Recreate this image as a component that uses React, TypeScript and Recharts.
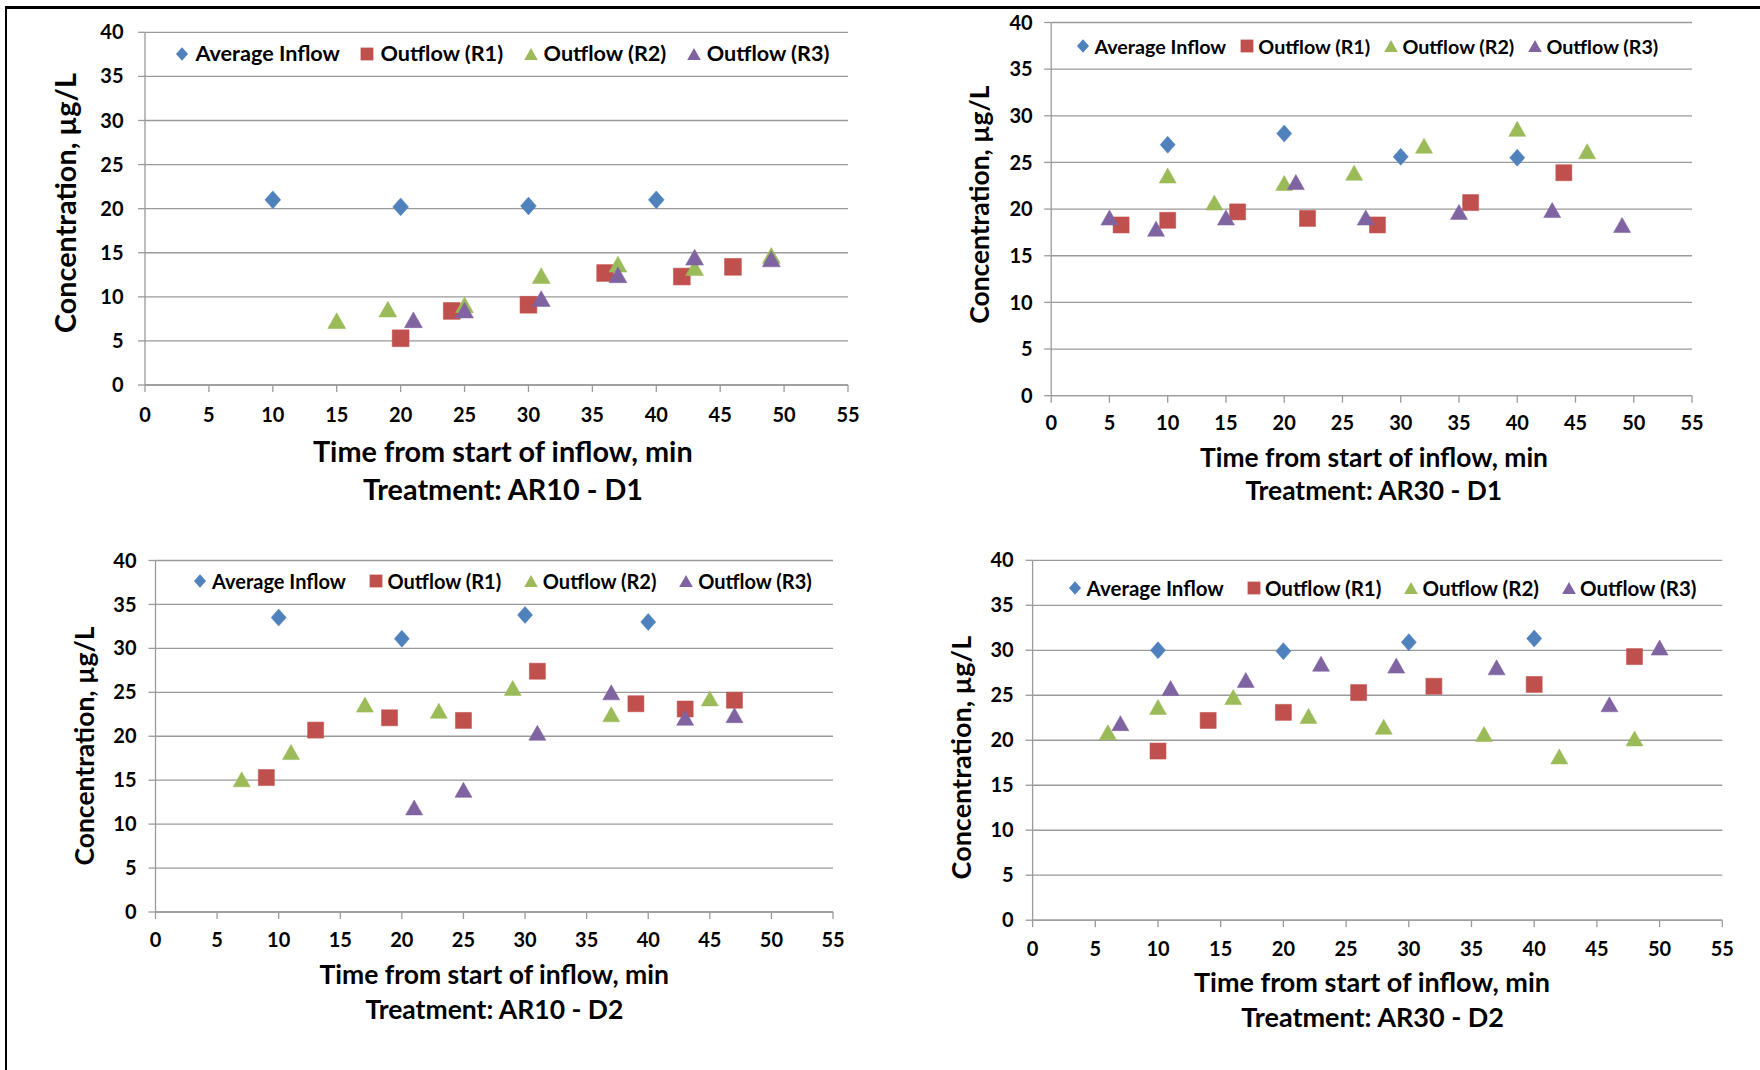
import React from 'react';
import { ScatterChart, Scatter, XAxis, YAxis, CartesianGrid, Legend } from 'recharts';

type Pt = { x: number; y: number };

const FONT = 'Lato, "Open Sans", sans-serif';
const X_TICKS = [0, 5, 10, 15, 20, 25, 30, 35, 40, 45, 50, 55];
const Y_TICKS = [0, 5, 10, 15, 20, 25, 30, 35, 40];
const SERIES_NAMES = ['Average Inflow', 'Outflow (R1)', 'Outflow (R2)', 'Outflow (R3)'];
const SERIES_COLORS = ['#4F81BD', '#C0504D', '#9BBB59', '#8064A2'];
const SERIES_SHAPES = ['diamond', 'square', 'triangle', 'triangle'];
const X_TITLE = 'Time from start of inflow, min';
const Y_TITLE = 'Concentration, µg/L';
const TREATMENTS = ['Treatment: AR10 - D1', 'Treatment: AR30 - D1', 'Treatment: AR10 - D2', 'Treatment: AR30 - D2'];

// Treatment AR10 - D1
const AR10_D1_INFLOW: Pt[] = [{ x: 10, y: 21.0 }, { x: 20, y: 20.2 }, { x: 30, y: 20.3 }, { x: 40, y: 21.0 }];
const AR10_D1_R1: Pt[] = [{ x: 20, y: 5.3 }, { x: 24, y: 8.4 }, { x: 30, y: 9.1 }, { x: 36, y: 12.7 }, { x: 42, y: 12.3 }, { x: 46, y: 13.4 }];
const AR10_D1_R2: Pt[] = [{ x: 15, y: 7.3 }, { x: 19, y: 8.6 }, { x: 25, y: 9.1 }, { x: 31, y: 12.4 }, { x: 37, y: 13.7 }, { x: 43, y: 13.3 }, { x: 49, y: 14.7 }];
const AR10_D1_R3: Pt[] = [{ x: 21, y: 7.4 }, { x: 25, y: 8.5 }, { x: 31, y: 9.8 }, { x: 37, y: 12.5 }, { x: 43, y: 14.5 }, { x: 49, y: 14.3 }];

// Treatment AR30 - D1
const AR30_D1_INFLOW: Pt[] = [{ x: 10, y: 26.9 }, { x: 20, y: 28.1 }, { x: 30, y: 25.6 }, { x: 40, y: 25.5 }];
const AR30_D1_R1: Pt[] = [{ x: 6, y: 18.3 }, { x: 10, y: 18.8 }, { x: 16, y: 19.7 }, { x: 22, y: 19.0 }, { x: 28, y: 18.3 }, { x: 36, y: 20.7 }, { x: 44, y: 23.9 }];
const AR30_D1_R2: Pt[] = [{ x: 10, y: 23.6 }, { x: 14, y: 20.7 }, { x: 20, y: 22.8 }, { x: 26, y: 23.9 }, { x: 32, y: 26.8 }, { x: 40, y: 28.6 }, { x: 46, y: 26.2 }];
const AR30_D1_R3: Pt[] = [{ x: 5, y: 19.1 }, { x: 9, y: 17.9 }, { x: 15, y: 19.1 }, { x: 21, y: 22.9 }, { x: 27, y: 19.1 }, { x: 35, y: 19.7 }, { x: 43, y: 19.9 }, { x: 49, y: 18.3 }];

// Treatment AR10 - D2
const AR10_D2_INFLOW: Pt[] = [{ x: 10, y: 33.5 }, { x: 20, y: 31.1 }, { x: 30, y: 33.8 }, { x: 40, y: 33.0 }];
const AR10_D2_R1: Pt[] = [{ x: 9, y: 15.3 }, { x: 13, y: 20.7 }, { x: 19, y: 22.1 }, { x: 25, y: 21.8 }, { x: 31, y: 27.4 }, { x: 39, y: 23.7 }, { x: 43, y: 23.1 }, { x: 47, y: 24.1 }];
const AR10_D2_R2: Pt[] = [{ x: 7, y: 15.1 }, { x: 11, y: 18.2 }, { x: 17, y: 23.6 }, { x: 23, y: 22.9 }, { x: 29, y: 25.5 }, { x: 37, y: 22.5 }, { x: 45, y: 24.3 }];
const AR10_D2_R3: Pt[] = [{ x: 21, y: 11.9 }, { x: 25, y: 13.9 }, { x: 31, y: 20.4 }, { x: 37, y: 25.0 }, { x: 43, y: 22.1 }, { x: 47, y: 22.4 }];

// Treatment AR30 - D2
const AR30_D2_INFLOW: Pt[] = [{ x: 10, y: 30.0 }, { x: 20, y: 29.9 }, { x: 30, y: 30.9 }, { x: 40, y: 31.3 }];
const AR30_D2_R1: Pt[] = [{ x: 10, y: 18.8 }, { x: 14, y: 22.2 }, { x: 20, y: 23.1 }, { x: 26, y: 25.3 }, { x: 32, y: 26.0 }, { x: 40, y: 26.2 }, { x: 48, y: 29.3 }];
const AR30_D2_R2: Pt[] = [{ x: 6, y: 20.9 }, { x: 10, y: 23.7 }, { x: 16, y: 24.8 }, { x: 22, y: 22.7 }, { x: 28, y: 21.5 }, { x: 36, y: 20.7 }, { x: 42, y: 18.2 }, { x: 48, y: 20.2 }];
const AR30_D2_R3: Pt[] = [{ x: 7, y: 21.9 }, { x: 11, y: 25.8 }, { x: 17, y: 26.7 }, { x: 23, y: 28.5 }, { x: 29, y: 28.3 }, { x: 37, y: 28.1 }, { x: 46, y: 24.0 }, { x: 50, y: 30.3 }];

const GRID = '#9a9a9a';

type Cfg = {
  bx: number; by: number;
  margin: { top: number; right: number; bottom: number; left: number };
  xTickMargin: number; yTickMargin: number;
  tickFont: number; titleFont: number; legendFont: number;
  xTitle: [number, number]; treat: [number, number]; yTitle: [number, number];
  legendLeft: number; legendMid: number; iconGap: number; itemGap: number;
  marker: number;
};

const PANELS: { cfg: Cfg; series: Pt[][]; treatment: string }[] = [
  {
    treatment: TREATMENTS[0],
    series: [AR10_D1_INFLOW, AR10_D1_R1, AR10_D1_R2, AR10_D1_R3],
    cfg: {
      bx: 0, by: 0,
      margin: { top: 32.3, right: 32, bottom: 110, left: 85 },
      xTickMargin: 16, yTickMargin: 14.5,
      tickFont: 20, titleFont: 28.8, legendFont: 21.6,
      xTitle: [502.8, 451.7], treat: [503, 489.2], yTitle: [66, 203],
      legendLeft: 175.4, legendMid: 53.7, iconGap: 6, itemGap: 20.5,
      marker: 1.05,
    },
  },
  {
    treatment: TREATMENTS[1],
    series: [AR30_D1_INFLOW, AR30_D1_R1, AR30_D1_R2, AR30_D1_R3],
    cfg: {
      bx: 880, by: 0,
      margin: { top: 22.5, right: 68, bottom: 99.3, left: 111.2 },
      xTickMargin: 13.3, yTickMargin: 11.6,
      tickFont: 20, titleFont: 26.4, legendFont: 19.7,
      xTitle: [494, 457], treat: [493.8, 490.2], yTitle: [100, 204.6],
      legendLeft: 196, legendMid: 46.4, iconGap: 4.4, itemGap: 13.8,
      marker: 1.0,
    },
  },
  {
    treatment: TREATMENTS[2],
    series: [AR10_D2_INFLOW, AR10_D2_R1, AR10_D2_R2, AR10_D2_R3],
    cfg: {
      bx: 0, by: 535,
      margin: { top: 25.5, right: 47, bottom: 118, left: 95.5 },
      xTickMargin: 14, yTickMargin: 12,
      tickFont: 20, titleFont: 26.5, legendFont: 20,
      xTitle: [494.2, 439.9], treat: [494.4, 474.3], yTitle: [84, 211],
      legendLeft: 193.3, legendMid: 46.4, iconGap: 4.7, itemGap: 23,
      marker: 1.0,
    },
  },
  {
    treatment: TREATMENTS[3],
    series: [AR30_D2_INFLOW, AR30_D2_R1, AR30_D2_R2, AR30_D2_R3],
    cfg: {
      bx: 880, by: 535,
      margin: { top: 25.3, right: 37.7, bottom: 109.8, left: 92.6 },
      xTickMargin: 14.4, yTickMargin: 12,
      tickFont: 20, titleFont: 27, legendFont: 20.5,
      xTitle: [492, 447.3], treat: [492.7, 482.4], yTitle: [81, 222.6],
      legendLeft: 188.3, legendMid: 53.4, iconGap: 4.3, itemGap: 22.8,
      marker: 1.0,
    },
  },
];

function markerPath(kind: string, cx: number, cy: number, s: number): string {
  if (kind === 'diamond') {
    const w = 7.5 * s, h = 8.5 * s;
    return `M${cx},${cy - h}L${cx + w},${cy}L${cx},${cy + h}L${cx - w},${cy}Z`;
  }
  if (kind === 'square') {
    const h = 8 * s;
    return `M${cx - h},${cy - h}H${cx + h}V${cy + h}H${cx - h}Z`;
  }
  const w = 8.5 * s, h = 7.5 * s;
  return `M${cx},${cy - h}L${cx + w},${cy + h}L${cx - w},${cy + h}Z`;
}

const makeShape = (kind: string, color: string, s: number) => (props: any) => {
  const { cx, cy } = props;
  if (cx == null || cy == null) return <g />;
  return <path d={markerPath(kind, cx, cy, s)} fill={color} stroke={color} strokeOpacity={0.55} strokeWidth={1} />;
};

function LegendRow({ payload, cfg }: { payload?: any[]; cfg: Cfg }) {
  const items = payload || [];
  return (
    <div style={{ display: 'flex', alignItems: 'center', whiteSpace: 'nowrap', fontFamily: FONT, fontWeight: 700, fontSize: cfg.legendFont, lineHeight: `${cfg.legendFont * 1.2}px`, color: '#000' }}>
      {items.map((it: any, i: number) => (
        <div key={i} style={{ display: 'flex', alignItems: 'center', marginLeft: i ? cfg.itemGap : 0 }}>
          <svg width={14} height={14} style={{ display: 'block' }}>
            <path d={markerPath(SERIES_SHAPES[i], 7, 7, 0.8)} fill={it.color} />
          </svg>
          <span style={{ marginLeft: cfg.iconGap }}>{it.value}</span>
        </div>
      ))}
    </div>
  );
}

function Panel({ cfg, series, treatment }: { cfg: Cfg; series: Pt[][]; treatment: string }) {
  const lh = cfg.legendFont * 1.2;
  const capT = cfg.titleFont * 0.36;
  return (
    <div style={{ position: 'absolute', left: cfg.bx, top: cfg.by, width: 880, height: 535 }}>
      <ScatterChart width={880} height={535} margin={cfg.margin}>
        <CartesianGrid horizontal vertical={false} stroke={GRID} strokeWidth={1.3} />
        <XAxis
          type="number" dataKey="x" domain={[0, 55]} ticks={X_TICKS} interval={0} height={40}
          tickSize={7} tickMargin={cfg.xTickMargin}
          axisLine={{ stroke: GRID, strokeWidth: 1.3 }} tickLine={{ stroke: GRID, strokeWidth: 1.3 }}
          tick={{ fill: '#000', fontFamily: FONT, fontWeight: 700, fontSize: cfg.tickFont }}
          label={{
            content: () => (
              <g fontFamily={FONT} fontWeight={700} fontSize={cfg.titleFont} fill="#000" textAnchor="middle">
                <text x={cfg.xTitle[0]} y={cfg.xTitle[1] + capT} textAnchor="middle">{X_TITLE}</text>
                <text x={cfg.treat[0]} y={cfg.treat[1] + capT} textAnchor="middle">{treatment}</text>
              </g>
            ),
          }}
        />
        <YAxis
          type="number" dataKey="y" domain={[0, 40]} ticks={Y_TICKS} interval={0} width={60}
          tickSize={7} tickMargin={cfg.yTickMargin}
          axisLine={{ stroke: GRID, strokeWidth: 1.3 }} tickLine={{ stroke: GRID, strokeWidth: 1.3 }}
          tick={{ fill: '#000', fontFamily: FONT, fontWeight: 700, fontSize: cfg.tickFont }}
          label={{
            content: () => (
              <text
                x={cfg.yTitle[0]} y={cfg.yTitle[1]} dy={capT}
                transform={`rotate(-90 ${cfg.yTitle[0]} ${cfg.yTitle[1]})`}
                textAnchor="middle" fontFamily={FONT} fontWeight={700} fontSize={cfg.titleFont} fill="#000"
              >
                {Y_TITLE}
              </text>
            ),
          }}
        />
        <Legend
          layout="horizontal" verticalAlign="middle" align="center"
          wrapperStyle={{ left: cfg.legendLeft, top: cfg.legendMid - lh / 2, width: 'auto', height: 'auto' }}
          content={(props: any) => <LegendRow payload={props.payload} cfg={cfg} />}
        />
        {series.map((data, i) => (
          <Scatter
            key={SERIES_NAMES[i]}
            name={SERIES_NAMES[i]}
            data={data}
            fill={SERIES_COLORS[i]}
            legendType={SERIES_SHAPES[i] as any}
            shape={makeShape(SERIES_SHAPES[i], SERIES_COLORS[i], cfg.marker)}
            isAnimationActive={false}
          />
        ))}
      </ScatterChart>
    </div>
  );
}

export default function App() {
  return (
    <div style={{ position: 'absolute', left: 0, top: 0, width: 1760, height: 1070, background: '#fff', overflow: 'hidden' }}>
      {PANELS.map((p, i) => (
        <Panel key={i} cfg={p.cfg} series={p.series} treatment={p.treatment} />
      ))}
      <div style={{ position: 'absolute', left: 5, top: 6, width: 1755, height: 1064, borderTop: '3px solid #000', borderLeft: '2px solid #000', boxSizing: 'border-box', pointerEvents: 'none' }} />
    </div>
  );
}
